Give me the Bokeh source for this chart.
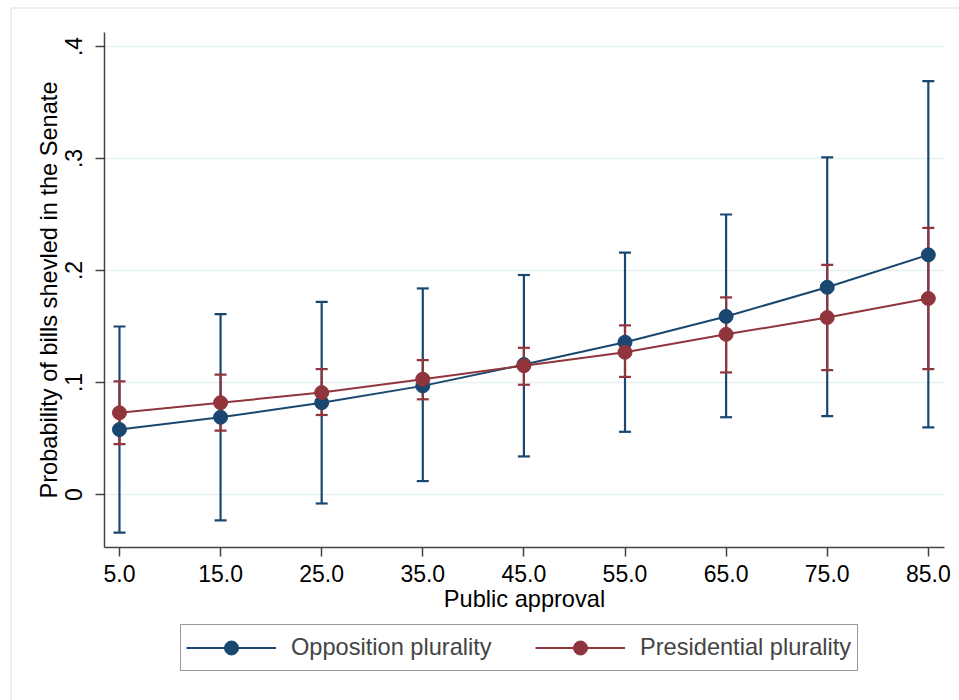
from bokeh.plotting import figure
from bokeh.layouts import column
from bokeh.models import (Range1d, FixedTicker, Whisker, TeeHead, ColumnDataSource,
                          Legend, LegendItem)
from bokeh.embed import file_html
from bokeh.resources import INLINE

# ---- data ----
approval = [5, 15, 25, 35, 45, 55, 65, 75, 85]
x_tick_labels = ["5.0", "15.0", "25.0", "35.0", "45.0", "55.0", "65.0", "75.0", "85.0"]
y_ticks = [0, 0.1, 0.2, 0.3, 0.4]
y_tick_labels = ["0", ".1", ".2", ".3", ".4"]

opp_est = [0.058, 0.069, 0.082, 0.097, 0.116, 0.136, 0.159, 0.185, 0.214]
opp_lo = [-0.034, -0.023, -0.008, 0.012, 0.034, 0.056, 0.069, 0.070, 0.060]
opp_hi = [0.150, 0.161, 0.172, 0.184, 0.196, 0.216, 0.250, 0.301, 0.369]

pres_est = [0.073, 0.082, 0.091, 0.103, 0.115, 0.127, 0.143, 0.158, 0.175]
pres_lo = [0.045, 0.057, 0.071, 0.085, 0.098, 0.105, 0.109, 0.111, 0.112]
pres_hi = [0.101, 0.107, 0.112, 0.120, 0.131, 0.151, 0.176, 0.205, 0.238]

series_names = ["Opposition plurality", "Presidential plurality"]
BLUE = "#1a476f"
RED = "#90353b"
FONT = "Liberation Sans"
FS_TICK = "23px"
FS = "23.6px"

p = figure(width=959, height=620, output_backend="svg", toolbar_location=None,
           x_range=Range1d(3.52, 86.6), y_range=Range1d(-0.0473, 0.4125),
           min_border_left=104, min_border_right=15, min_border_top=32,
           min_border_bottom=73)
p.border_fill_color = None
p.background_fill_color = "white"
p.outline_line_color = None

# axes
p.xaxis.ticker = FixedTicker(ticks=approval)
p.xaxis.major_label_overrides = {a: l for a, l in zip(approval, x_tick_labels)}
p.yaxis.ticker = FixedTicker(ticks=y_ticks)
p.yaxis.major_label_overrides = {t: l for t, l in zip(y_ticks, y_tick_labels)}
p.yaxis.major_label_orientation = "vertical"
p.xaxis.axis_label = "Public approval"
p.yaxis.axis_label = "Probability of bills shevled in the Senate"
for ax in (p.xaxis, p.yaxis):
    ax.axis_line_color = "#444444"
    ax.axis_line_width = 1.5
    ax.major_tick_line_color = "#444444"
    ax.major_tick_line_width = 1.5
    ax.major_tick_out = 9
    ax.major_tick_in = 0
    ax.minor_tick_line_color = None
    ax.major_label_text_font = FONT
    ax.major_label_text_font_size = FS_TICK
    ax.major_label_text_color = "black"
    ax.axis_label_text_font = FONT
    ax.axis_label_text_font_size = FS
    ax.axis_label_text_font_style = "normal"
    ax.axis_label_text_color = "black"
p.xaxis.major_label_standoff = 8
p.xaxis.axis_label_standoff = 1
p.yaxis.major_label_standoff = 13
p.yaxis.axis_label_standoff = 1

p.xgrid.grid_line_color = None
p.ygrid.grid_line_color = "#e8f1f2"
p.ygrid.grid_line_width = 1.5

# confidence intervals
src_opp = ColumnDataSource(dict(x=approval, y=opp_est, lo=opp_lo, hi=opp_hi))
src_pres = ColumnDataSource(dict(x=approval, y=pres_est, lo=pres_lo, hi=pres_hi))
for src, col in ((src_opp, BLUE), (src_pres, RED)):
    w = Whisker(base="x", upper="hi", lower="lo", source=src,
                line_color=col, line_width=2.2,
                upper_head=TeeHead(size=12, line_color=col, line_width=2.2),
                lower_head=TeeHead(size=12, line_color=col, line_width=2.2))
    p.add_layout(w)

for src, col in ((src_opp, BLUE), (src_pres, RED)):
    p.line("x", "y", source=src, line_color=col, line_width=2)
    p.scatter("x", "y", source=src, size=14, fill_color=col, line_color=col)

# ---- legend strip below the plot (its data lies outside its own view) ----
lf = figure(width=959, height=80, output_backend="svg", toolbar_location=None,
            x_range=Range1d(-10, -5), y_range=Range1d(-10, -5), min_border=0,
            x_axis_location=None, y_axis_location=None)
lf.border_fill_color = None
lf.background_fill_color = None
lf.outline_line_color = None
lf.grid.grid_line_color = None
items = []
for src, col, name in ((src_opp, BLUE, series_names[0]), (src_pres, RED, series_names[1])):
    ln = lf.line("x", "y", source=src, line_color=col, line_width=2)
    sc = lf.scatter("x", "y", source=src, size=14, fill_color=col, line_color=col)
    items.append(LegendItem(label=name, renderers=[ln, sc]))

legend = Legend(items=items, orientation="horizontal", location=(76, 29),
                label_text_font=FONT, label_text_font_size=FS,
                glyph_width=90, glyph_height=35, label_standoff=15,
                label_width=212, spacing=32, padding=5, margin=0,
                border_line_color="#333333", border_line_width=1.5,
                background_fill_color="white")
lf.add_layout(legend, "center")

layout = column(p, lf, spacing=0,
                styles={"box-shadow": "inset 10px 7px 0 0 #ffffff, inset 12px 9px 0 0 #e8f1f2"})

open("out.html", "w").write(file_html(layout, INLINE))
